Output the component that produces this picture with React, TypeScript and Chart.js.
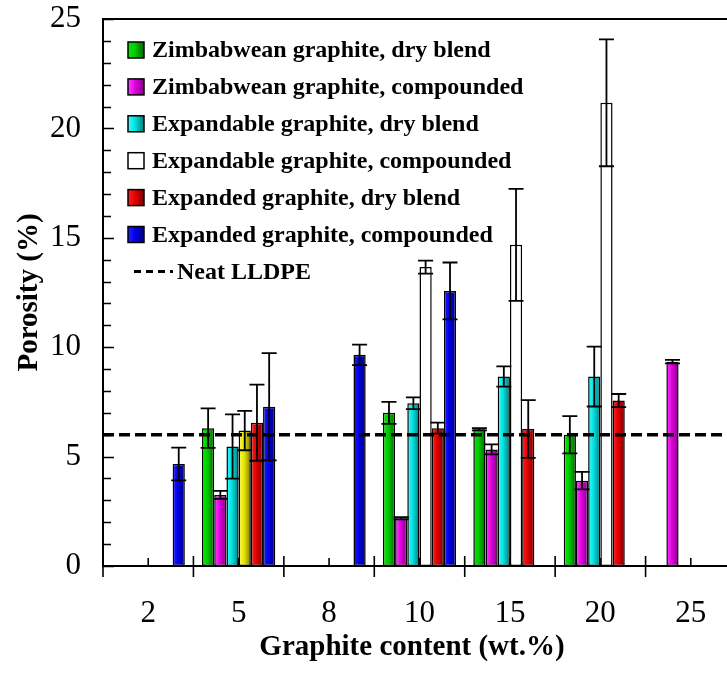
import React, { useEffect, useRef } from 'react';
import { Chart, registerables } from 'chart.js';

Chart.register(...registerables);

// ---------- data ----------
const categories = ['2', '5', '8', '10', '15', '20', '25'];

const seriesLabels = [
  'Zimbabwean graphite, dry blend',
  'Zimbabwean graphite, compounded',
  'Expandable graphite, dry blend',
  'Expandable graphite, compounded',
  'Expanded graphite, dry blend',
  'Expanded graphite, compounded',
];

const zimDry = [null, 6.3, null, 7.0, 6.25, 6.0, null];
const zimDryErr = [null, 0.9, null, 0.5, 0.05, 0.85, null];

const zimComp = [null, 3.25, null, 2.18, 5.33, 3.9, 9.34];
const zimCompErr = [null, 0.18, null, 0.05, 0.23, 0.4, 0.08];

const expandableDry = [null, 5.46, null, 7.44, 8.66, 8.66, null];
const expandableDryErr = [null, 1.47, null, 0.27, 0.46, 1.37, null];

const expandableComp = [null, 6.19, null, 13.66, 14.68, 21.17, null];
const expandableCompErr = [null, 0.9, null, 0.3, 2.56, 2.9, null];

const expandedDry = [null, 6.55, null, 6.3, 6.26, 7.56, null];
const expandedDryErr = [null, 1.74, null, 0.25, 1.32, 0.3, null];

const expandedComp = [4.66, 7.28, 9.65, 12.57, null, null, null];
const expandedCompErr = [0.75, 2.45, 0.47, 1.3, null, null, null];

const neatLLDPE = 6;
const neatLabel = 'Neat LLDPE';

const yMin = 0;
const yMax = 25;

const xTitle = 'Graphite content (wt.%)';
const yTitle = 'Porosity (%)';

// ---------- styles ----------
const FF = "'Liberation Serif', 'Times New Roman', Times, serif";
const CAT_PCT = 0.81;

const palettes: (string[] | null)[] = [
  ['#00f000', '#00c800', '#006400'],
  ['#ff40ff', '#e000e0', '#800080'],
  ['#40ffff', '#00e0e0', '#007a7a'],
  null,
  ['#ff2020', '#e00000', '#780000'],
  ['#2020ff', '#0000e8', '#000078'],
];
const yellowPalette = ['#ffff40', '#e6e600', '#7a7a00'];
const yellowPoint = { dataset: 3, index: 1 };

const values = [zimDry, zimComp, expandableDry, expandableComp, expandedDry, expandedComp];
const errors = [zimDryErr, zimCompErr, expandableDryErr, expandableCompErr, expandedDryErr, expandedCompErr];

function grad(ctx: CanvasRenderingContext2D, x0: number, x1: number, p: string[] | null) {
  if (!p) return '#ffffff';
  if (!isFinite(x0) || !isFinite(x1) || x1 <= x0) return p[1];
  const g = ctx.createLinearGradient(x0, 0, x1, 0);
  g.addColorStop(0, p[0]);
  g.addColorStop(0.45, p[1]);
  g.addColorStop(1, p[2]);
  return g;
}

function paletteFor(di: number, idx: number) {
  if (di === yellowPoint.dataset && idx === yellowPoint.index) return yellowPalette;
  return palettes[di];
}

const decorPlugin = {
  id: 'decor',
  afterDatasetsDraw(chart: any) {
    const { ctx, chartArea, scales } = chart;
    const xs = scales.x;
    const ys = scales.y;
    ctx.save();

    // error bars
    ctx.strokeStyle = '#000';
    ctx.lineWidth = 1.8;
    values.forEach((vals, di) => {
      const meta = chart.getDatasetMeta(di);
      vals.forEach((v, i) => {
        const e = errors[di][i];
        if (v == null || e == null) return;
        const el = meta.data[i];
        if (!el) return;
        const x = el.x;
        const yt = ys.getPixelForValue(v + e);
        const yb = ys.getPixelForValue(v - e);
        ctx.beginPath();
        ctx.moveTo(x, yt);
        ctx.lineTo(x, yb);
        ctx.moveTo(x - 7.5, yt);
        ctx.lineTo(x + 7.5, yt);
        ctx.moveTo(x - 7.5, yb);
        ctx.lineTo(x + 7.5, yb);
        ctx.stroke();
      });
    });

    // neat LLDPE dashed line
    const yN = ys.getPixelForValue(neatLLDPE);
    ctx.beginPath();
    ctx.setLineDash([11, 5]);
    ctx.lineWidth = 3.5;
    ctx.moveTo(chartArea.left, yN);
    ctx.lineTo(chartArea.right, yN);
    ctx.stroke();
    ctx.setLineDash([]);

    // frame
    ctx.lineWidth = 2;
    ctx.strokeRect(chartArea.left, chartArea.top, chartArea.right - chartArea.left, chartArea.bottom - chartArea.top);

    // y ticks (inside)
    ctx.lineWidth = 1.6;
    ctx.beginPath();
    for (let v = yMin; v <= yMax; v++) {
      const y = Math.round(ys.getPixelForValue(v)) + 0.5;
      const len = v % 5 === 0 ? 11 : 8;
      ctx.moveTo(chartArea.left, y);
      ctx.lineTo(chartArea.left + len, y);
    }
    // x ticks: boundaries cross, centres inside
    for (let i = 0; i <= categories.length; i++) {
      const x = xs.getPixelForValue(i - 0.5);
      ctx.moveTo(x, chartArea.bottom - 10);
      ctx.lineTo(x, chartArea.bottom + 11);
    }
    for (let i = 0; i < categories.length; i++) {
      const x = xs.getPixelForValue(i);
      ctx.moveTo(x, chartArea.bottom - 8);
      ctx.lineTo(x, chartArea.bottom);
    }
    ctx.stroke();

    // x-axis title
    ctx.fillStyle = '#000';
    ctx.font = `bold 29px ${FF}`;
    ctx.textAlign = 'center';
    ctx.textBaseline = 'alphabetic';
    ctx.fillText(xTitle, 412, 655);

    // legend
    const top = 50;
    const dy = 36.9;
    ctx.font = `bold 24px ${FF}`;
    ctx.textBaseline = 'middle';
    ctx.textAlign = 'left';
    seriesLabels.forEach((label, i) => {
      const cy = top + i * dy;
      const bx = 128;
      const bw = 16;
      ctx.fillStyle = grad(ctx, bx, bx + bw, palettes[i]) as any;
      ctx.fillRect(bx, cy - bw / 2, bw, bw);
      ctx.lineWidth = 1.5;
      ctx.strokeStyle = '#000';
      ctx.strokeRect(bx, cy - bw / 2, bw, bw);
      ctx.fillStyle = '#000';
      ctx.fillText(label, 152, cy + 1);
    });
    const cyN = top + 6 * dy;
    ctx.beginPath();
    ctx.setLineDash([7, 5]);
    ctx.lineWidth = 3;
    ctx.moveTo(134, cyN);
    ctx.lineTo(173, cyN);
    ctx.stroke();
    ctx.setLineDash([]);
    ctx.fillText(neatLabel, 177, cyN + 1);

    ctx.restore();
  },
};

export default function App() {
  const ref = useRef<HTMLCanvasElement | null>(null);

  useEffect(() => {
    if (!ref.current) return;
    const n = values.length;
    const chart = new Chart(ref.current, {
      type: 'bar',
      data: {
        labels: categories,
        datasets: values.map((vals, di) => ({
          label: seriesLabels[di],
          data: vals,
          backgroundColor: (c: any) => {
            const p = paletteFor(di, c.dataIndex);
            if (!p) return '#ffffff';
            const xs = c.chart && c.chart.scales ? c.chart.scales.x : null;
            if (!xs || c.type !== 'data' || !(xs.width > 0)) return p[1];
            const center = xs.getPixelForValue(c.dataIndex);
            const cw = xs.width / categories.length;
            const group = cw * CAT_PCT;
            const bw = group / n;
            const left = center - group / 2 + c.datasetIndex * bw;
            return grad(c.chart.ctx, left, left + bw, p);
          },
          borderColor: '#000',
          borderWidth: 1.5,
          borderSkipped: false,
          categoryPercentage: CAT_PCT,
          barPercentage: 1,
        })),
      },
      options: {
        responsive: false,
        animation: false,
        layout: { padding: { top: 19, right: 9, left: 0, bottom: 0 } },
        plugins: {
          legend: { display: false },
          tooltip: { enabled: false },
        },
        scales: {
          x: {
            grid: { display: false, drawTicks: false },
            border: { display: false },
            ticks: { color: '#000', font: { family: FF, size: 31 }, padding: 29, maxRotation: 0, autoSkip: false },
            title: { display: false, text: xTitle },
            afterFit: (s: any) => {
              s.height = 107;
              s.paddingLeft = 0;
              s.paddingRight = 0;
            },
          },
          y: {
            min: yMin,
            max: yMax,
            grid: { display: false, drawTicks: false },
            border: { display: false },
            ticks: { stepSize: 5, color: '#000', font: { family: FF, size: 31 }, padding: 22 },
            title: { display: true, text: yTitle, color: '#000', font: { family: FF, size: 29, weight: 'bold' }, padding: { top: 12, bottom: 0 } },
            afterFit: (s: any) => {
              s.width = 103;
              s.paddingTop = 0;
              s.paddingBottom = 0;
            },
          },
        },
      },
      plugins: [decorPlugin],
    });
    return () => chart.destroy();
  }, []);

  return (
    <div style={{ position: 'fixed', left: 0, top: 0, width: 727, height: 673, overflow: 'hidden', background: '#fff' }}>
      <canvas ref={ref} width={745} height={673} />
    </div>
  );
}
